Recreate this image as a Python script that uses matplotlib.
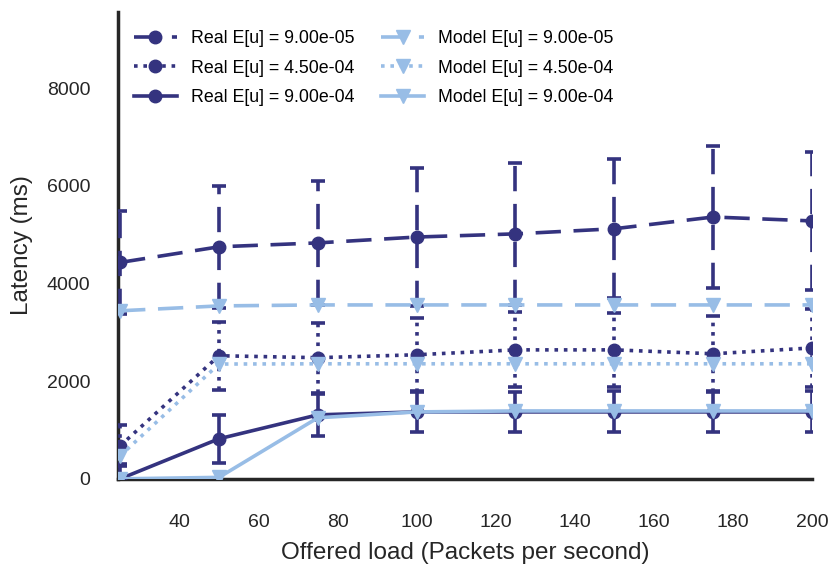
import matplotlib
matplotlib.use("Agg")
import matplotlib.pyplot as plt

plt.rcParams["font.family"] = ["Liberation Sans", "DejaVu Sans"]

load = [25, 50, 75, 100, 125, 150, 175, 200]
labels = ["9.00e-05", "4.50e-04", "9.00e-04"]

real_mean = [
    [4430, 4750, 4830, 4950, 5015, 5120, 5360, 5280],
    [675, 2520, 2480, 2540, 2640, 2640, 2560, 2680],
    [0, 820, 1310, 1370, 1370, 1370, 1370, 1370],
]
real_err = [
    [1060, 1250, 1270, 1420, 1450, 1420, 1460, 1410],
    [420, 700, 720, 760, 770, 760, 780, 790],
    [300, 490, 430, 420, 410, 420, 420, 420],
]
model_mean = [
    [3440, 3540, 3560, 3560, 3560, 3560, 3560, 3560],
    [470, 2350, 2355, 2355, 2355, 2355, 2355, 2355],
    [0, 30, 1250, 1370, 1390, 1390, 1390, 1390],
]

dark = "#34337f"
light = "#98bde6"
styles = [(0, (7, 3.5)), (0, (1, 1.6)), "-"]


def main():
    fig = plt.figure(figsize=(8.32, 5.64), dpi=100)
    ax = fig.add_axes([0.142, 0.151, 0.834, 0.828])

    handles = []
    names = []
    for mean, err, ls, lab in zip(real_mean, real_err, styles, labels):
        eb = ax.errorbar(
            load, mean, yerr=err, color=dark, linestyle=ls, linewidth=2.6,
            marker="o", markersize=9, capsize=5, capthick=2.6, elinewidth=2.6,
            zorder=3,
        )
        for col in eb[2]:
            col.set_linestyle(ls)
        handles.append(eb[0])
        names.append(f"Real E[u] = {lab}")
    for mean, ls, lab in zip(model_mean, styles, labels):
        (line,) = ax.plot(
            load, mean, color=light, linestyle=ls, linewidth=2.6,
            marker="v", markersize=10, zorder=4,
        )
        handles.append(line)
        names.append(f"Model E[u] = {lab}")

    ax.set_xlim(24.5, 200)
    ax.set_ylim(0, 9560)
    ax.set_xticks([40, 60, 80, 100, 120, 140, 160, 180, 200])
    ax.set_yticks([0, 2000, 4000, 6000, 8000])
    ax.tick_params(axis="both", length=0, labelsize=14, colors="#262626")
    ax.tick_params(axis="y", pad=20)
    ax.tick_params(axis="x", pad=25)
    ax.set_xlabel("Offered load (Packets per second)", fontsize=17.5,
                  color="#262626", labelpad=8)
    ax.set_ylabel("Latency (ms)", fontsize=17.5, color="#262626", labelpad=10)

    for side in ("top", "right"):
        ax.spines[side].set_visible(False)
    for side in ("left", "bottom"):
        ax.spines[side].set_linewidth(2.5)
        ax.spines[side].set_color("#262626")

    ax.legend(
        handles, names, ncol=2, loc="upper left", frameon=False, fontsize=12.8,
        bbox_to_anchor=(0.0, 0.995), columnspacing=1.5, handlelength=2.4,
        labelspacing=0.7,
    )

    fig.savefig("out.png", dpi=100)


main()
